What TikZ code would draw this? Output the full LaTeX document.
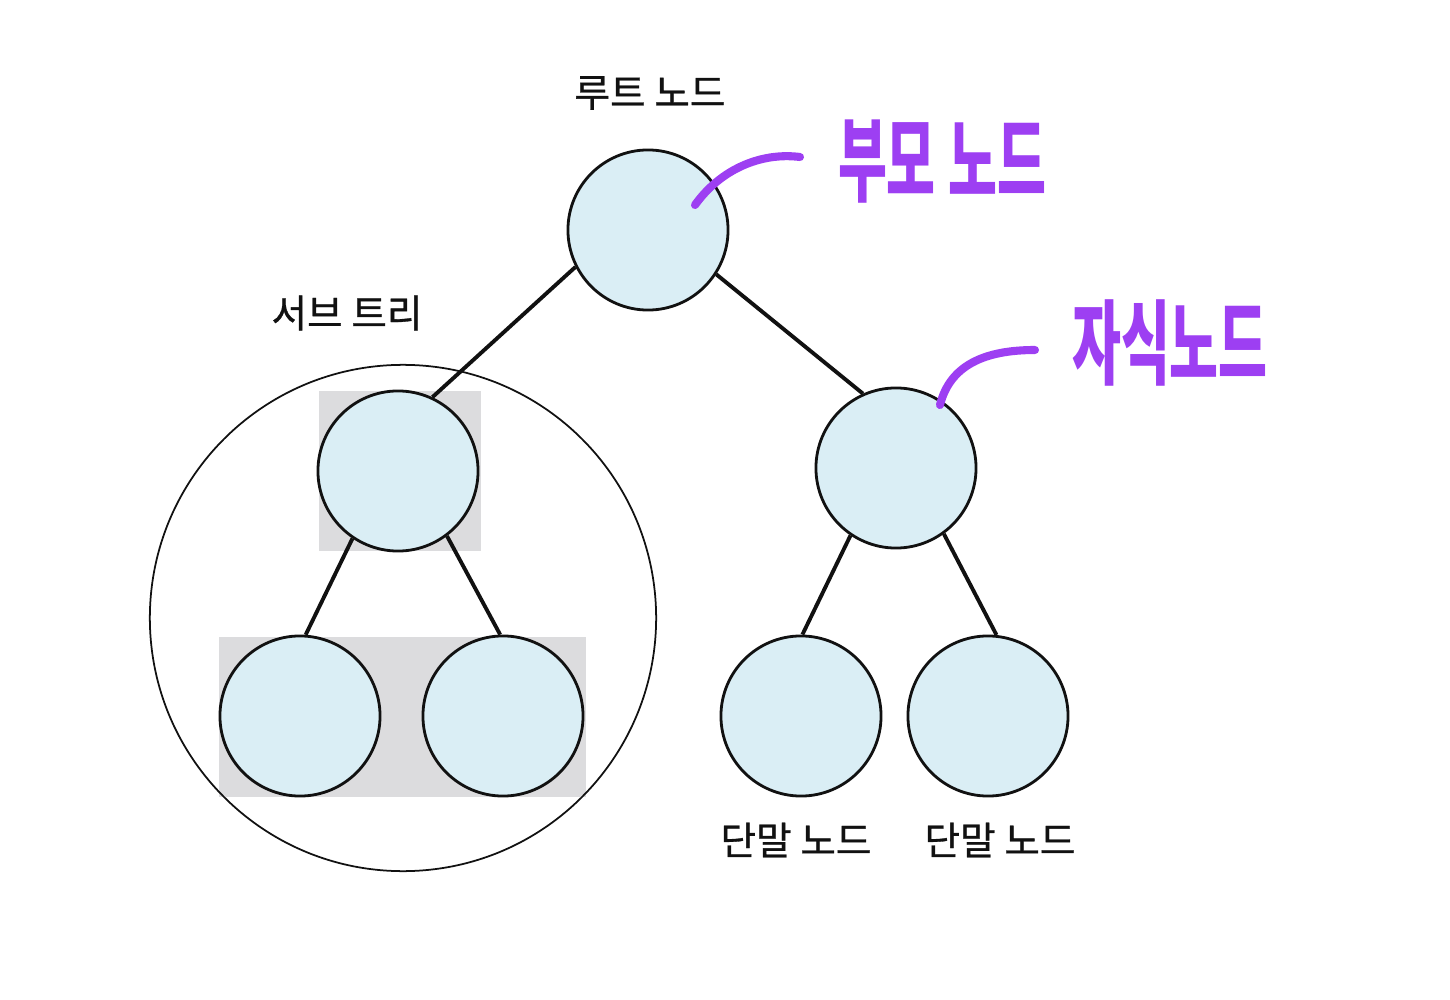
\documentclass[tikz,border=0pt]{standalone}
\usepackage{fontspec}
\setmainfont{Noto Sans CJK KR}
\newfontfamily\krlabel{Noto Sans CJK KR}[FakeBold=0.8]
\usepackage{graphicx}
\usepackage{xcolor}
\usepackage{tikz}
\usetikzlibrary{positioning}
\definecolor{ink}{HTML}{111111}
\definecolor{nodeblue}{HTML}{DAEEF5}
\definecolor{boxgray}{HTML}{DCDCDE}
\definecolor{pen}{HTML}{9D3FF2}

\begin{document}
\begin{tikzpicture}[x=0.01cm,y=-0.01cm, every node/.style={font=\krlabel\fontsize{11pt}{13pt}\selectfont}, tn/.style={circle,draw=ink,fill=nodeblue,line width=.8pt,minimum size=1.6cm,inner sep=0pt}, gbox/.style={fill=boxgray,draw=none}, edge/.style={draw=ink,line width=1.1pt}, lbl/.style={text=ink,inner sep=1pt}, note/.style={text=pen,inner sep=1pt,font=\fontsize{21pt}{24pt}\selectfont\bfseries}, scribble/.style={draw=pen,line width=2.3pt,line cap=round}]
\useasboundingbox (0,0) rectangle (1450,1000);
% gray highlight boxes
\fill[gbox] (319,391) rectangle (481,551);
\fill[gbox] (219,637) rectangle (586,797);
% subtree outline
\node[circle,draw=ink,line width=.5pt,minimum size=5.06cm,inner sep=0pt] (sub) at (403,618) {};
% tree nodes
\node[tn] (root) at (648,230) {};
\node[tn] (lc)   at (398,471) {};
\node[tn] (rc)   at (896,468) {};
\node[tn] (ll)   at (300,716) {};
\node[tn] (lr)   at (503,716) {};
\node[tn] (rl)   at (801,716) {};
\node[tn] (rr)   at (988,716) {};
\draw[edge] (root.207)--(lc.65);
\draw[edge] (root.-33)--(rc.114);
\draw[edge] (lc.236)--(ll.86);
\draw[edge] (lc.-53)--(lr.92);
\draw[edge] (rc.236)--(rl.89);
\draw[edge] (rc.-54)--(rr.84);
% labels
\node[lbl] (rootlbl) at (650,93)  {루트 노드};
\node[lbl] (sublbl)  at (347,313) {서브 트리};
\node[lbl] (leaf1)   at (796,840) {단말 노드};
\node[lbl] (leaf2)   at (1000,840) {단말 노드};
% hand notes
\node[note] (parent) at (942,162) {\scalebox{0.72}[1.25]{부모 노드}};
\node[note] (child)  at (1170,343) {\scalebox{0.72}[1.25]{자식노드}};
\coordinate (p0) at (695,205);
\coordinate (p1) at (800,157);
\coordinate (c0) at (940,405);
\coordinate (c1) at (1035,350);
\draw[scribble] (p0) .. controls (720,170) and (760,152) .. (p1);
\draw[scribble] (c0) .. controls (950,365) and (985,350) .. (c1);
\end{tikzpicture}
\end{document}
